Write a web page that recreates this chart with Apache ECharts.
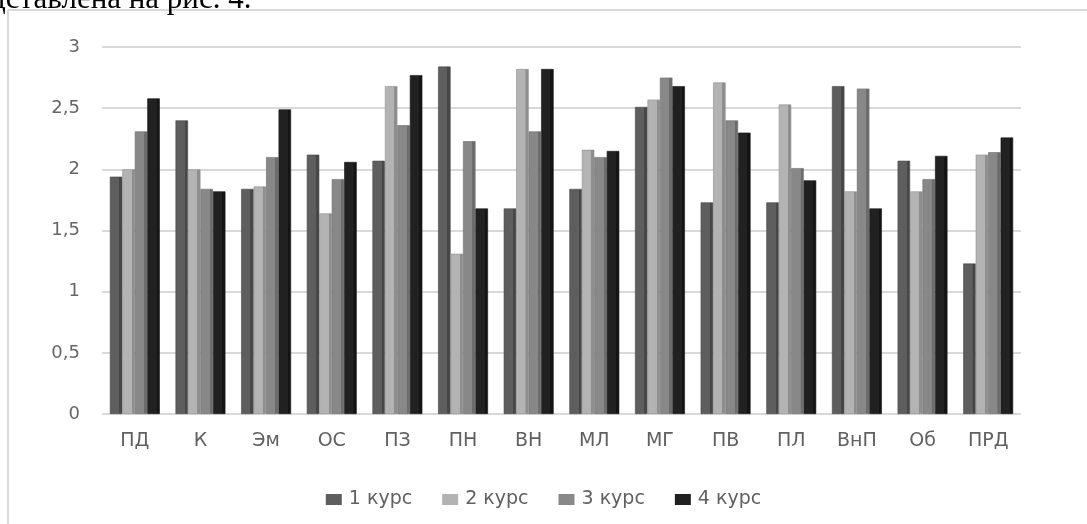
<!DOCTYPE html>
<html>
<head>
<meta charset="utf-8">
<script src="https://cdn.jsdelivr.net/npm/echarts@6/dist/echarts.min.js"></script>
<style>
html,body{margin:0;padding:0;background:#fff;}
#c{width:1087px;height:524px;}
</style>
</head>
<body>
<div id="c"></div>
<script>
var categories = ['ПД','К','Эм','ОС','ПЗ','ПН','ВН','МЛ','МГ','ПВ','ПЛ','ВнП','Об','ПРД'];
var seriesNames = ['1 курс','2 курс','3 курс','4 курс'];
var kurs1 = [1.94, 2.40, 1.84, 2.12, 2.07, 2.84, 1.68, 1.84, 2.51, 1.73, 1.73, 2.68, 2.07, 1.23];
var kurs2 = [2.00, 2.00, 1.86, 1.64, 2.68, 1.31, 2.82, 2.16, 2.57, 2.71, 2.53, 1.82, 1.82, 2.12];
var kurs3 = [2.31, 1.84, 2.10, 1.92, 2.36, 2.23, 2.31, 2.10, 2.75, 2.40, 2.01, 2.66, 1.92, 2.14];
var kurs4 = [2.58, 1.82, 2.49, 2.06, 2.77, 1.68, 2.82, 2.15, 2.68, 2.30, 1.91, 1.68, 2.11, 2.26];
var yTicks = [0, 0.5, 1, 1.5, 2, 2.5, 3];

var colors = ['#5e5e5e', '#b3b3b3', '#888888', '#212121'];
var sideColors = ['#474747', '#8e8e8e', '#6c6c6c', '#141414'];
var allData = [kurs1, kurs2, kurs3, kurs4];

var chart = echarts.init(document.getElementById('c'), null, {renderer: 'canvas'});
var series = allData.map(function (d, i) {
  return {
    name: seriesNames[i],
    type: 'bar',
    data: d,
    barGap: '0%',
    barCategoryGap: '24%',
    itemStyle: {
      color: new echarts.graphic.LinearGradient(0, 0, 1, 0, [
        {offset: 0, color: colors[i]},
        {offset: 0.74, color: colors[i]},
        {offset: 0.75, color: sideColors[i]},
        {offset: 1, color: sideColors[i]}
      ]),
      borderColor: sideColors[i],
      borderWidth: 0.6
    }
  };
});

chart.setOption({
  animation: false,
  color: colors,
  grid: {left: 102, right: 66, top: 47, bottom: 110, containLabel: false},
  graphic: [
    {type: 'line', shape: {x1: 8, y1: 10, x2: 1087, y2: 10}, style: {stroke: '#d9d9d9', lineWidth: 2}},
    {type: 'line', shape: {x1: 8, y1: 10, x2: 8, y2: 524}, style: {stroke: '#d9d9d9', lineWidth: 2}},
    {type: 'text', x: -10, y: 15, style: {text: 'дставлена на рис. 4.', font: '31px "Liberation Serif"', fill: '#000', verticalAlign: 'bottom'}}
  ],
  legend: {
    data: seriesNames.map(function (n, i) {
      return {name: n, itemStyle: {color: colors[i], borderWidth: 0}};
    }),
    top: 485,
    left: 'center',
    itemWidth: 16,
    itemHeight: 11,
    itemGap: 30,
    icon: 'rect',
    textStyle: {color: '#606060', fontSize: 19, fontFamily: 'DejaVu Sans', padding: [0, 0, 0, 2]}
  },
  xAxis: {
    type: 'category',
    data: categories,
    axisLine: {show: false},
    axisTick: {show: false},
    axisLabel: {color: '#606060', fontSize: 19, fontFamily: 'DejaVu Sans', margin: 18}
  },
  yAxis: {
    type: 'value',
    min: yTicks[0],
    max: yTicks[yTicks.length - 1],
    interval: 0.5,
    axisLine: {show: false},
    axisTick: {show: false},
    axisLabel: {
      color: '#666666', fontSize: 18, fontFamily: 'DejaVu Sans', margin: 22,
      formatter: function (v) { return String(v).replace('.', ','); }
    },
    splitLine: {lineStyle: {color: '#d9d9d9', width: 2}}
  },
  series: series
});
</script>
</body>
</html>
